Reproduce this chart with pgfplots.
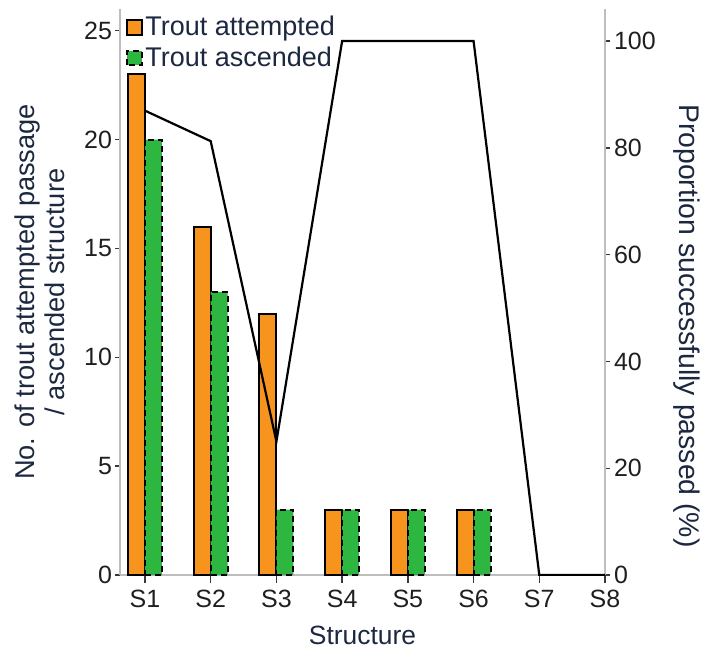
\documentclass[border=0pt]{standalone}
\usepackage{pgfplots}
\pgfplotsset{compat=1.18}
\usepackage{fontspec}
\setmainfont{Liberation Sans}
\definecolor{barorange}{HTML}{F7941D}
\definecolor{bargreen}{HTML}{2DB640}
\definecolor{axgray}{HTML}{BEBEBE}
\definecolor{labnavy}{HTML}{1C2740}
\definecolor{tickdark}{HTML}{3A3A3A}

\begin{document}
\begin{tikzpicture}
\pgfplotsset{
  every axis/.append style={
    scale only axis, width=242.5pt, height=283pt,
    xmin=0.62, xmax=8,
    /pgf/number format/assume math mode=true,
    tick label style={black!88, font=\fontsize{12.5}{14}\selectfont},
    label style={labnavy},
    axis line style={axgray, line width=1.4pt, -},
    tick align=outside,
    major tick length=2.5pt,
    ytick style={tickdark, line width=0.7pt},
  },
}
\begin{axis}[
  name=main,
  axis x line*=bottom, axis y line*=left,
  ymin=0, ymax=26,
  ytick={0,5,10,15,20,25},
  yticklabel style={xshift=2pt},
  xtick={1,...,8},
  xticklabels={S1,S2,S3,S4,S5,S6,S7,S8},
  xtick style={tickdark, line width=0.7pt},
  x tick style={/pgfplots/major tick length=4pt},
  xticklabel style={yshift=-1.5pt},
  ybar=0pt, bar width=8.5pt,
  xlabel={Structure},
  xlabel style={font=\fontsize{13.2}{15}\selectfont, yshift=-2.5pt},
  ylabel={No. of trout attempted passage\\/ ascended structure},
  ylabel style={align=center, font=\fontsize{13.6}{15}\selectfont, yshift=3pt},
  legend style={at={(rel axis cs:0.012,0.993)}, anchor=north west,
    draw=none, fill=none, font=\fontsize{13.5}{15}\selectfont,
    row sep=1.2pt, inner sep=0pt, nodes={inner sep=1.4pt, text=labnavy}},
  legend cell align=left,
  legend image code/.code={\draw[#1] (0pt,-3.6pt) rectangle (7.2pt,3.6pt);},
]
% S7 and S8 have no fish (0), so no bar is drawn there
\addplot[fill=barorange, draw=black, line width=1pt] coordinates
  {(1,23) (2,16) (3,12) (4,3) (5,3) (6,3)};
\addlegendentry{Trout attempted}
\addplot[fill=bargreen, draw=black, line width=1pt, densely dashed] coordinates
  {(1,20) (2,13) (3,3) (4,3) (5,3) (6,3)};
\addlegendentry{Trout ascended}
\end{axis}
\begin{axis}[
  axis y line*=right, axis x line=none,
  ymin=0, ymax=106,
  ytick={0,20,40,60,80,100},
  yticklabel style={xshift=-1.5pt},
  ylabel={Proportion successfully passed (\%)},
  ylabel style={rotate=180, font=\fontsize{14.2}{16}\selectfont,
    at={(ticklabel cs:0.44,2pt)}},
]
\addplot[black, line width=1.1pt, mark=none] coordinates
  {(1,86.96) (2,81.25) (3,25) (4,100) (5,100) (6,100) (7,0) (8,0)};
\end{axis}
\pgfresetboundingbox
\path ([shift={(-60pt,-38pt)}]main.south west) rectangle ([shift={(49pt,4.5pt)}]main.north east);
\end{tikzpicture}
\end{document}
